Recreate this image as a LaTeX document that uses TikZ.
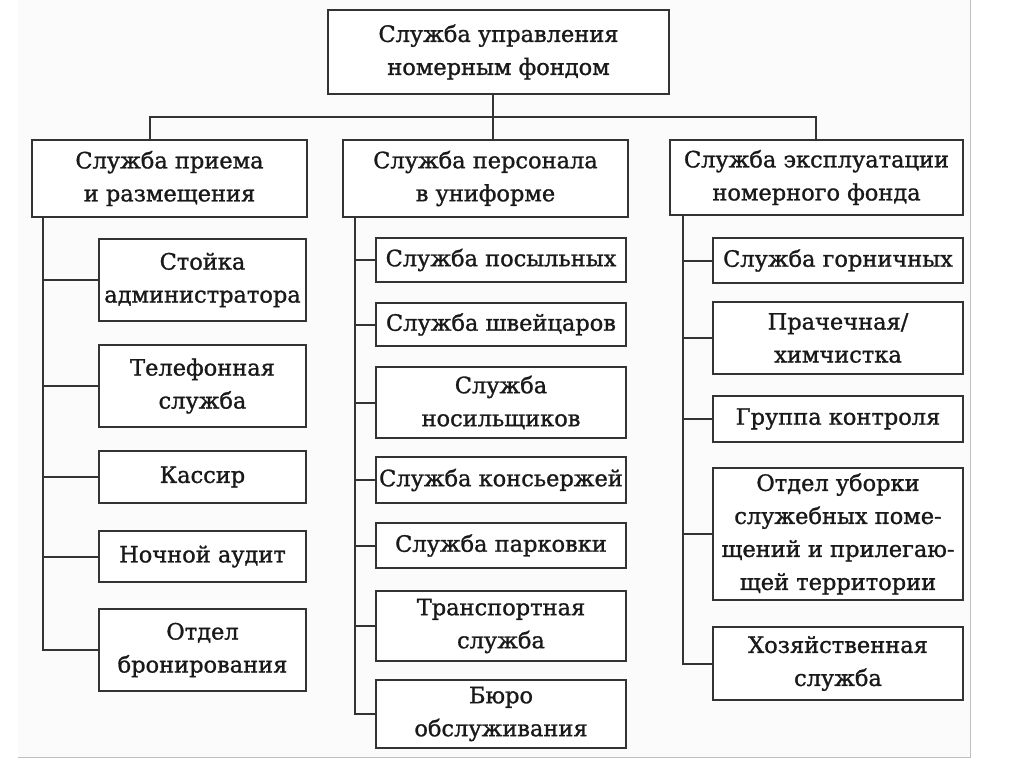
\documentclass[tikz,border=0pt]{standalone}
\usepackage{fontspec}
\setmainfont{DejaVu Serif}[BoldFont=DejaVu Serif, BoldFeatures={FakeBold=1.2}]
\begin{document}
\begin{tikzpicture}[x=1pt,y=1pt,
  box/.style={draw=black!80, line width=2.2pt, fill=white, inner sep=0pt, outer sep=0pt,
    align=center, text=black!90, font=\fontsize{22.5}{33}\selectfont\bfseries},
  link/.style={draw=black!80, line width=2pt}]
\useasboundingbox (0,0) rectangle (1024,-767);
\fill[black!1.5] (18,0) rectangle (970,-757);
\draw[black!25, line width=1pt] (18,-757) -- (970,-757) -- (970,0);
\newcommand{\bx}[6]{\node[box, minimum width={(#4-#2)*1pt}, minimum height={(#5-#3)*1pt}]
  (#1) at ({(#2+#4)/2},{-(#3+#5)/2}) {#6};}
% top
\bx{top}{328}{10}{669}{94}{Служба управления\\номерным фондом}
% level 2
\bx{L}{32}{140}{307}{217}{Служба приема\\и размещения}
\bx{M}{343}{140}{628}{217}{Служба персонала\\в униформе}
\bx{R}{670}{140}{963}{215}{Служба эксплуатации\\номерного фонда}
% left column
\bx{l1}{99}{239}{306}{321}{Стойка\\администратора}
\bx{l2}{99}{345}{306}{427}{Телефонная\\служба}
\bx{l3}{99}{451}{306}{503}{Кассир}
\bx{l4}{99}{531}{306}{582}{Ночной аудит}
\bx{l5}{99}{609}{306}{691}{Отдел\\бронирования}
% middle column
\bx{m1}{376}{238}{626}{282}{Служба посыльных}
\bx{m2}{376}{303}{626}{346}{Служба швейцаров}
\bx{m3}{376}{367}{626}{438}{Служба\\носильщиков}
\bx{m4}{376}{457}{626}{503}{Служба консьержей}
\bx{m5}{376}{523}{626}{568}{Служба парковки}
\bx{m6}{376}{591}{626}{661}{Транспортная\\служба}
\bx{m7}{376}{680}{626}{748}{Бюро\\обслуживания}
% right column
\bx{r1}{713}{238}{963}{283}{Служба горничных}
\bx{r2}{713}{302}{963}{374}{Прачечная/\\химчистка}
\bx{r3}{713}{396}{963}{442}{Группа контроля}
\bx{r4}{713}{468}{963}{600}{Отдел уборки\\служебных поме-\\щений и прилегаю-\\щей территории}
\bx{r5}{713}{627}{963}{700}{Хозяйственная\\служба}
% helper coordinates for connector x positions
\coordinate (xm) at (493,0);
\coordinate (xl) at (150,0);
\coordinate (xr) at (816,0);
\coordinate (sl) at (43,0);
\coordinate (sm) at (355,0);
\coordinate (sr) at (683,0);
% connectors
\draw[link] (top.south -| xm) -- (M.north -| xm);
\draw[link] (L.north -| xl) -- ++(0,23) -| (R.north -| xr);
\foreach \c in {l1,l2,l3,l4,l5} \draw[link] (L.south -| sl) |- (\c.west);
\foreach \c in {m1,m2,m3,m4,m5,m6,m7} \draw[link] (M.south -| sm) |- (\c.west);
\foreach \c in {r1,r2,r3,r4,r5} \draw[link] (R.south -| sr) |- (\c.west);
\end{tikzpicture}
\end{document}
